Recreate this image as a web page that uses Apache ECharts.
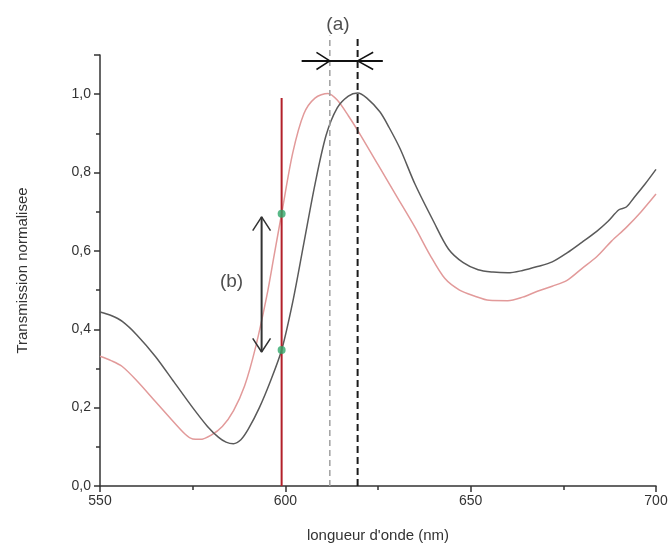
<!DOCTYPE html>
<html>
<head>
<meta charset="utf-8">
<script src="https://cdn.jsdelivr.net/npm/echarts@6/dist/echarts.min.js"></script>
<style>
  html, body { margin: 0; padding: 0; background: #fff; }
  #chart { width: 671px; height: 552px; }
</style>
</head>
<body>
<div id="chart"></div>
<script>
// wavelength (nm) / normalised transmission
var blackX = [550, 553, 556, 560, 565, 570, 575, 579, 582, 584, 586, 588, 590, 593, 596, 599, 602, 605, 608, 611, 614, 617, 619.5, 622, 625.5, 628, 631, 635, 640, 644, 648, 652, 656, 660, 664, 668, 672, 676, 680, 684, 687, 690, 692, 694, 697, 700];
var blackY = [0.444, 0.435, 0.42, 0.385, 0.33, 0.265, 0.2, 0.152, 0.124, 0.112, 0.108, 0.118, 0.145, 0.2, 0.268, 0.347, 0.47, 0.62, 0.77, 0.895, 0.965, 0.995, 1.003, 0.99, 0.955, 0.915, 0.86, 0.77, 0.675, 0.605, 0.57, 0.552, 0.546, 0.544, 0.55, 0.56, 0.572, 0.595, 0.622, 0.65, 0.675, 0.705, 0.712, 0.735, 0.77, 0.808];
var pinkX = [550, 553, 556, 560, 565, 570, 573, 575, 577, 580, 583, 586, 589, 592, 595, 597, 599, 602, 605, 608, 611.5, 614, 617, 620, 625, 630, 635, 639, 643, 647, 651, 655, 660, 664, 668, 672, 676, 680, 684, 688, 692, 696, 700];
var pinkY = [0.331, 0.32, 0.305, 0.268, 0.215, 0.162, 0.132, 0.12, 0.119, 0.13, 0.152, 0.192, 0.255, 0.355, 0.485, 0.59, 0.695, 0.85, 0.95, 0.99, 1.002, 0.985, 0.945, 0.9, 0.82, 0.74, 0.66, 0.59, 0.53, 0.5, 0.485, 0.474, 0.473, 0.482, 0.497, 0.51, 0.525, 0.555, 0.585, 0.625, 0.66, 0.7, 0.745];

var probeNm = 599;          // red vertical line
var probeTop = 0.99;
var greenDots = [0.695, 0.347];
var peakPink = 612;         // grey dashed
var peakBlack = 619.5;      // black dashed
var dashTop = 1.15;
var arrowA = { from: 604.4, to: 626.3, y: 1.085 };
var arrowB = { x: 593.6, from: 0.342, to: 0.687 };

function pairs(xs, ys) { return xs.map(function (x, i) { return [x, ys[i]]; }); }
function comma(v) { return v.toFixed(1).replace('.', ','); }

var font = 'Liberation Sans, Arial, sans-serif';
var chart = echarts.init(document.getElementById('chart'));

var annLine = function (data, color, width, type) {
  return {
    type: 'line', data: data, symbol: 'none', clip: false, silent: true, z: 4,
    lineStyle: { color: color, width: width, type: type || 'solid' }
  };
};

chart.setOption({
  animation: false,
  backgroundColor: '#fff',
  grid: { left: 100, right: 15, top: 55, bottom: 66 },
  xAxis: {
    type: 'value', min: 550, max: 700, interval: 50,
    name: "longueur d'onde (nm)", nameLocation: 'middle', nameGap: 42,
    nameTextStyle: { fontFamily: font, fontSize: 15, color: '#333' },
    axisLine: { lineStyle: { color: '#333', width: 1.5 } },
    axisTick: { length: 6, lineStyle: { color: '#333', width: 1.5 } },
    minorTick: { show: true, splitNumber: 2, length: 4, lineStyle: { color: '#333', width: 1.5 } },
    axisLabel: { fontFamily: font, fontSize: 14, color: '#333', margin: 8 },
    splitLine: { show: false }
  },
  yAxis: {
    type: 'value', min: 0, max: 1.1, interval: 0.2,
    name: 'Transmission normalisee', nameLocation: 'middle', nameGap: 70, nameRotate: 90,
    nameTextStyle: { fontFamily: font, fontSize: 15, color: '#333' },
    axisLine: { lineStyle: { color: '#333', width: 1.5 } },
    axisTick: { length: 6, lineStyle: { color: '#333', width: 1.5 } },
    minorTick: { show: true, splitNumber: 2, length: 4, lineStyle: { color: '#333', width: 1.5 } },
    axisLabel: {
      fontFamily: font, fontSize: 14, color: '#333', margin: 9, showMaxLabel: false,
      formatter: function (v) { return comma(v); }
    },
    splitLine: { show: false }
  },
  series: [
    {
      name: 'pink', type: 'line', data: pairs(pinkX, pinkY), symbol: 'none', smooth: 0.3,
      lineStyle: { color: '#e29a9a', width: 1.5 }, z: 2
    },
    {
      name: 'black', type: 'line', data: pairs(blackX, blackY), symbol: 'none', smooth: 0.3,
      lineStyle: { color: '#5a5a5a', width: 1.5 }, z: 3
    },
    annLine([[probeNm, 0], [probeNm, probeTop]], '#b3202a', 2),
    annLine([[peakPink, 0], [peakPink, dashTop]], '#a0a0a0', 1.5, [6, 4]),
    annLine([[peakBlack, 0], [peakBlack, dashTop]], '#1a1a1a', 2, [7, 4]),
    // (a) arrow
    annLine([[arrowA.from, arrowA.y], [arrowA.to, arrowA.y]], '#111', 2),
    annLine([[peakPink - 3.6, arrowA.y + 0.022], [peakPink, arrowA.y], [peakPink - 3.6, arrowA.y - 0.022]], '#111', 1.5),
    annLine([[peakBlack + 4.2, arrowA.y + 0.022], [peakBlack, arrowA.y], [peakBlack + 4.2, arrowA.y - 0.022]], '#111', 1.5),
    // (b) arrow
    annLine([[arrowB.x, arrowB.from], [arrowB.x, arrowB.to]], '#333', 2),
    annLine([[arrowB.x - 2.4, arrowB.to - 0.035], [arrowB.x, arrowB.to], [arrowB.x + 2.4, arrowB.to - 0.035]], '#333', 1.5),
    annLine([[arrowB.x - 2.4, arrowB.from + 0.035], [arrowB.x, arrowB.from], [arrowB.x + 2.4, arrowB.from + 0.035]], '#333', 1.5),
    {
      type: 'scatter', data: greenDots.map(function (v) { return [probeNm, v]; }),
      symbolSize: 8, itemStyle: { color: '#2fa86a' }, z: 6, silent: true
    },
    {
      type: 'scatter', symbolSize: 0, silent: true, clip: false, z: 6,
      data: [
        { value: [614.2, 1.176], name: '(a)' },
        { value: [585.5, 0.52], name: '(b)' }
      ],
      label: {
        show: true, position: 'inside', formatter: '{b}',
        fontFamily: font, fontSize: 19, color: '#222'
      }
    }
  ]
});
</script>
</body>
</html>
